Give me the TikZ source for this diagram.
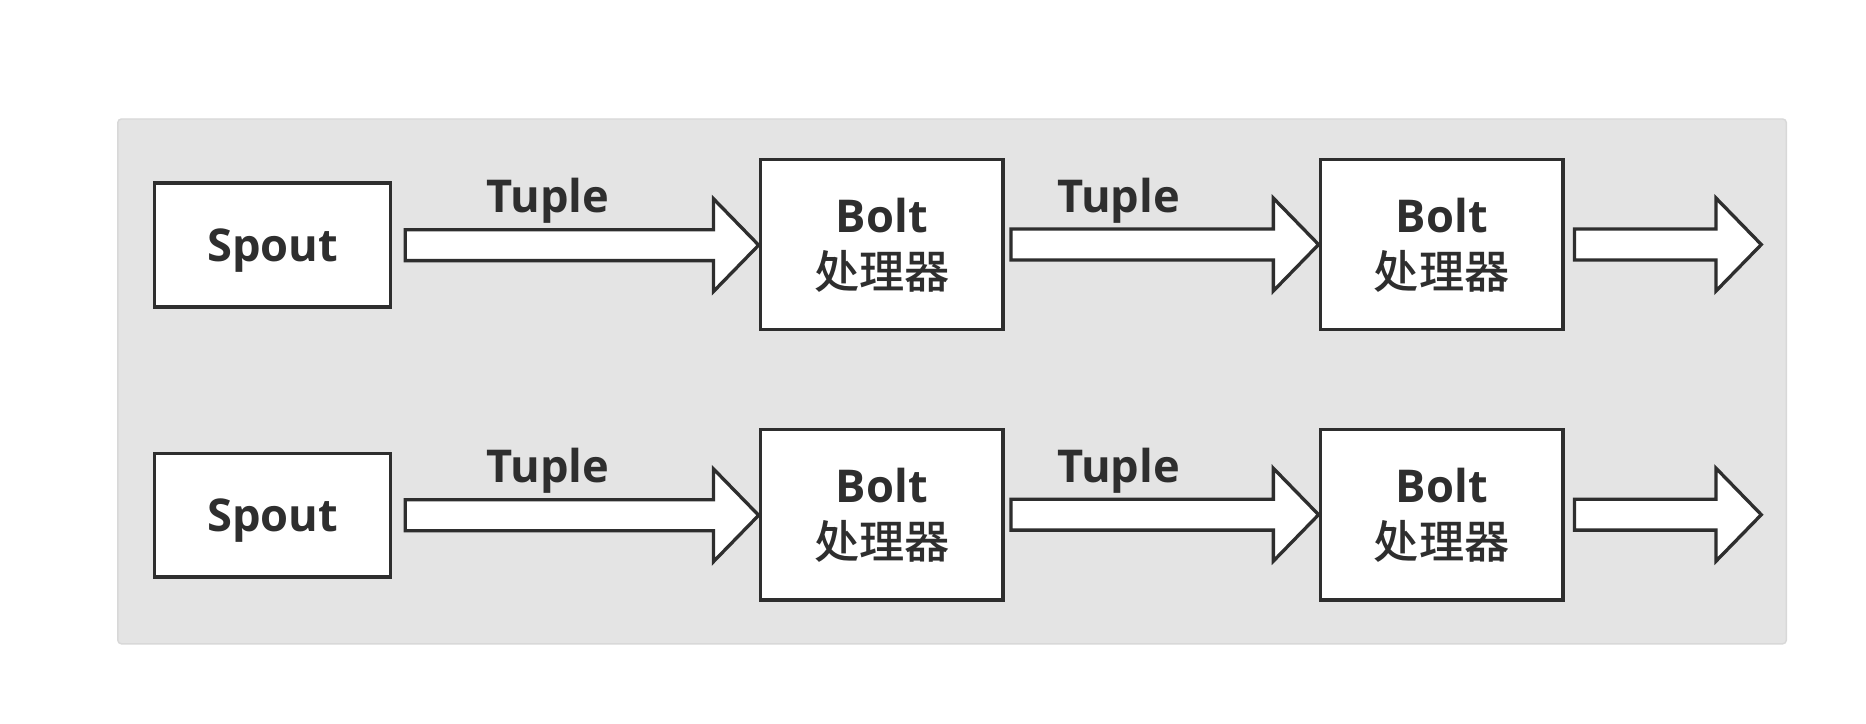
\documentclass[tikz,border=0pt]{standalone}
\usepackage{fontspec}
\setmainfont{Open Sans}
\newfontfamily\cjk{Noto Sans CJK SC Medium}
\usetikzlibrary{calc}
\definecolor{dark}{HTML}{2E2E2E}
\definecolor{panelfill}{HTML}{E4E4E4}
\definecolor{panelline}{HTML}{D8D8D8}
\tikzset{
  boxbase/.style={draw=dark, line width=1.5pt, fill=white, inner sep=0pt,
    text=dark, align=center, font=\fontsize{19}{24}\selectfont\bfseries},
  spoutbox/.style={boxbase, minimum width=99pt, minimum height=52pt,
    text height=14pt, text depth=0pt},
  boltbox/.style={boxbase, minimum width=102pt, minimum height=71.5pt},
  blockarr/.style={draw=dark, line width=1.4pt, fill=white, line join=miter},
  lbl/.style={text=dark, font=\fontsize{19}{24}\selectfont\bfseries, inner sep=0pt, anchor=base},
  panel/.style={fill=panelfill, draw=panelline, line width=0.6pt, rounded corners=1.5pt}
}
\newcommand\blkarr[2]{%
  \draw[blockarr] let \p1=(#1), \p2=(#2) in
    (\x1,\y1+6.5pt) -- (\x2-19pt,\y1+6.5pt) -- (\x2-19pt,\y1+19.5pt) -- (\x2,\y1)
    -- (\x2-19pt,\y1-19.5pt) -- (\x2-19pt,\y1-6.5pt) -- (\x1,\y1-6.5pt) -- cycle;}
\begin{document}
\begin{tikzpicture}[x=0.5pt,y=-0.5pt]
\useasboundingbox (0,0) rectangle (1568,608);
\fill[white] (0,0) rectangle (1568,608);
\draw[panel] (99,100) rectangle (1501,541);
\foreach \r/\dy in {1/0,2/227}{
  \node[spoutbox] (s\r) at (229,206+\dy) {Spout};
  \node[boltbox] (b\r) at (741,205.5+\dy) {};
  \node[boltbox] (c\r) at (1211.5,205.5+\dy) {};
  \foreach \n in {b,c}{
    \node[lbl] (\n\r t) at ([yshift=5pt]\n\r.center) {Bolt};
    \node[lbl] (\n\r z) at ([yshift=-18.5pt]\n\r.center) {\cjk\mdseries 处理器};
  }
  \coordinate (as\r) at ([xshift=5.5pt]s\r.east);
  \coordinate (bs\r) at ([xshift=2.5pt]b\r.east);
  \coordinate (cs\r) at ([xshift=4pt]c\r.east);
  \coordinate (ce\r) at (1480,206+\dy);
  \blkarr{as\r}{b\r.west}
  \blkarr{bs\r}{c\r.west}
  \blkarr{cs\r}{ce\r}
  \node[lbl] (t\r a) at (460.5,178.7+\dy) {Tuple};
  \node[lbl] (t\r b) at (940,178.7+\dy) {Tuple};
}
\end{tikzpicture}
\end{document}
